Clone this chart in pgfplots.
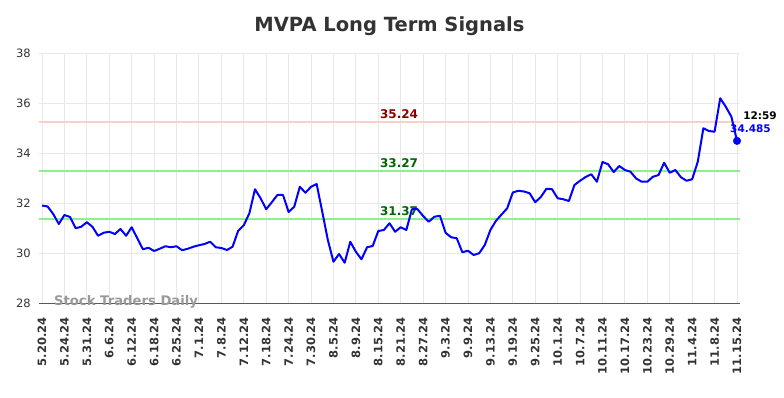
\documentclass[border=0pt]{standalone}
\usepackage{pgfplots}
\pgfplotsset{compat=1.18}
\usepackage{fontspec}
\setmainfont{DejaVu Sans}
\definecolor{gridc}{HTML}{E8E8E8}
\definecolor{pinkl}{HTML}{FFCCCC}
\definecolor{greenl}{HTML}{90EE90}
\definecolor{dred}{HTML}{8B0000}
\definecolor{dgreen}{HTML}{006400}
\definecolor{titlec}{HTML}{333333}
\definecolor{wm}{HTML}{999999}
\begin{document}
\begin{tikzpicture}
\useasboundingbox (0,0) rectangle (784bp,398bp);
\node[font=\bfseries\fontsize{19.5bp}{22bp}\selectfont, text=titlec] at (389.5bp,372bp) {MVPA Long Term Signals};
\begin{axis}[
  at={(39.2bp,95bp)}, anchor=south west,
  width=700.6bp, height=250bp, scale only axis,
  xmin=-0.5, xmax=124.5, ymin=28, ymax=38,
  clip=false,
  xtick={0,4,8,12,16,20,24,28,32,36,40,44,48,52,56,60,64,68,72,76,80,84,88,92,96,100,104,108,112,116,120,124},
  xticklabels={5.20.24,5.24.24,5.31.24,6.6.24,6.12.24,6.18.24,6.25.24,7.1.24,7.8.24,7.12.24,7.18.24,7.24.24,7.30.24,8.5.24,8.9.24,8.15.24,8.21.24,8.27.24,9.3.24,9.9.24,9.13.24,9.19.24,9.25.24,10.1.24,10.7.24,10.11.24,10.17.24,10.23.24,10.29.24,11.4.24,11.8.24,11.15.24},
  xticklabel style={rotate=90, anchor=east, font=\bfseries\fontsize{11.5bp}{12bp}\selectfont, text=titlec, xshift=-11bp},
  ytick={28,30,32,34,36,38},
  yticklabel style={font=\fontsize{11.5bp}{12bp}\selectfont, text=titlec, xshift=-5bp},
  /pgf/number format/assume math mode=true,
  grid=major, major grid style={draw=gridc, line width=0.9bp},
  axis line style={draw=none}, tick style={draw=none},
]
\draw[draw=black!65, line width=1bp] (axis cs:-0.5,28) -- (axis cs:124.5,28);
\addplot[draw=pinkl, line width=2bp, forget plot] coordinates {(-0.5,35.24) (124.5,35.24)};
\addplot[draw=greenl, line width=2bp, forget plot] coordinates {(-0.5,33.27) (124.5,33.27)};
\addplot[draw=greenl, line width=2bp, forget plot] coordinates {(-0.5,31.37) (124.5,31.37)};
\node[font=\bfseries\fontsize{12bp}{12bp}\selectfont, text=dred, anchor=south, inner sep=0pt] at (axis cs:63.7,35.24) [yshift=3bp] {35.24};
\node[font=\bfseries\fontsize{12bp}{12bp}\selectfont, text=dgreen, anchor=south, inner sep=0pt] at (axis cs:63.7,33.27) [yshift=3bp] {33.27};
\node[font=\bfseries\fontsize{12bp}{12bp}\selectfont, text=dgreen, anchor=south, inner sep=0pt] at (axis cs:63.7,31.37) [yshift=3bp] {31.37};
\node[font=\bfseries\fontsize{13.2bp}{13bp}\selectfont, text=wm] at (axis cs:15,28.04) {Stock Traders Daily};
\addplot[draw=blue, line width=2bp, line join=round, mark=none] coordinates {
(0,31.90) (1,31.86) (2,31.56) (3,31.16) (4,31.52) (5,31.44) (6,30.99) (7,31.05) (8,31.23) (9,31.05)
(10,30.69) (11,30.81) (12,30.85) (13,30.76) (14,30.96) (15,30.69) (16,31.03) (17,30.59) (18,30.15) (19,30.21)
(20,30.08) (21,30.17) (22,30.27) (23,30.23) (24,30.27) (25,30.11) (26,30.17) (27,30.25) (28,30.31) (29,30.36)
(30,30.45) (31,30.23) (32,30.20) (33,30.12) (34,30.25) (35,30.89) (36,31.11) (37,31.59) (38,32.55) (39,32.19)
(40,31.75) (41,32.03) (42,32.32) (43,32.32) (44,31.64) (45,31.85) (46,32.65) (47,32.41) (48,32.65) (49,32.76)
(50,31.65) (51,30.52) (52,29.65) (53,29.96) (54,29.61) (55,30.45) (56,30.05) (57,29.75) (58,30.23) (59,30.28)
(60,30.88) (61,30.92) (62,31.19) (63,30.85) (64,31.03) (65,30.92) (66,31.75) (67,31.75) (68,31.48) (69,31.25)
(70,31.45) (71,31.49) (72,30.81) (73,30.63) (74,30.59) (75,30.03) (76,30.09) (77,29.92) (78,29.99) (79,30.32)
(80,30.92) (81,31.29) (82,31.54) (83,31.79) (84,32.42) (85,32.49) (86,32.46) (87,32.39) (88,32.03) (89,32.24)
(90,32.57) (91,32.55) (92,32.19) (93,32.15) (94,32.08) (95,32.72) (96,32.89) (97,33.04) (98,33.15) (99,32.85)
(100,33.64) (101,33.55) (102,33.24) (103,33.48) (104,33.32) (105,33.25) (106,32.98) (107,32.85) (108,32.85) (109,33.05)
(110,33.12) (111,33.61) (112,33.21) (113,33.32) (114,33.03) (115,32.89) (116,32.95) (117,33.65) (118,34.99) (119,34.88)
(120,34.85) (121,36.19) (122,35.85) (123,35.45) (124,34.485)
};
\addplot[only marks, mark=*, mark size=3.8bp, color=blue] coordinates {(124,34.485)};
\node[font=\bfseries\fontsize{10.5bp}{11bp}\selectfont, text=black] at (axis cs:128.1,35.48) {12:59};
\node[font=\bfseries\fontsize{10.5bp}{11bp}\selectfont, text=blue] at (axis cs:126.4,34.96) {34.485};
\end{axis}
\end{tikzpicture}
\end{document}
